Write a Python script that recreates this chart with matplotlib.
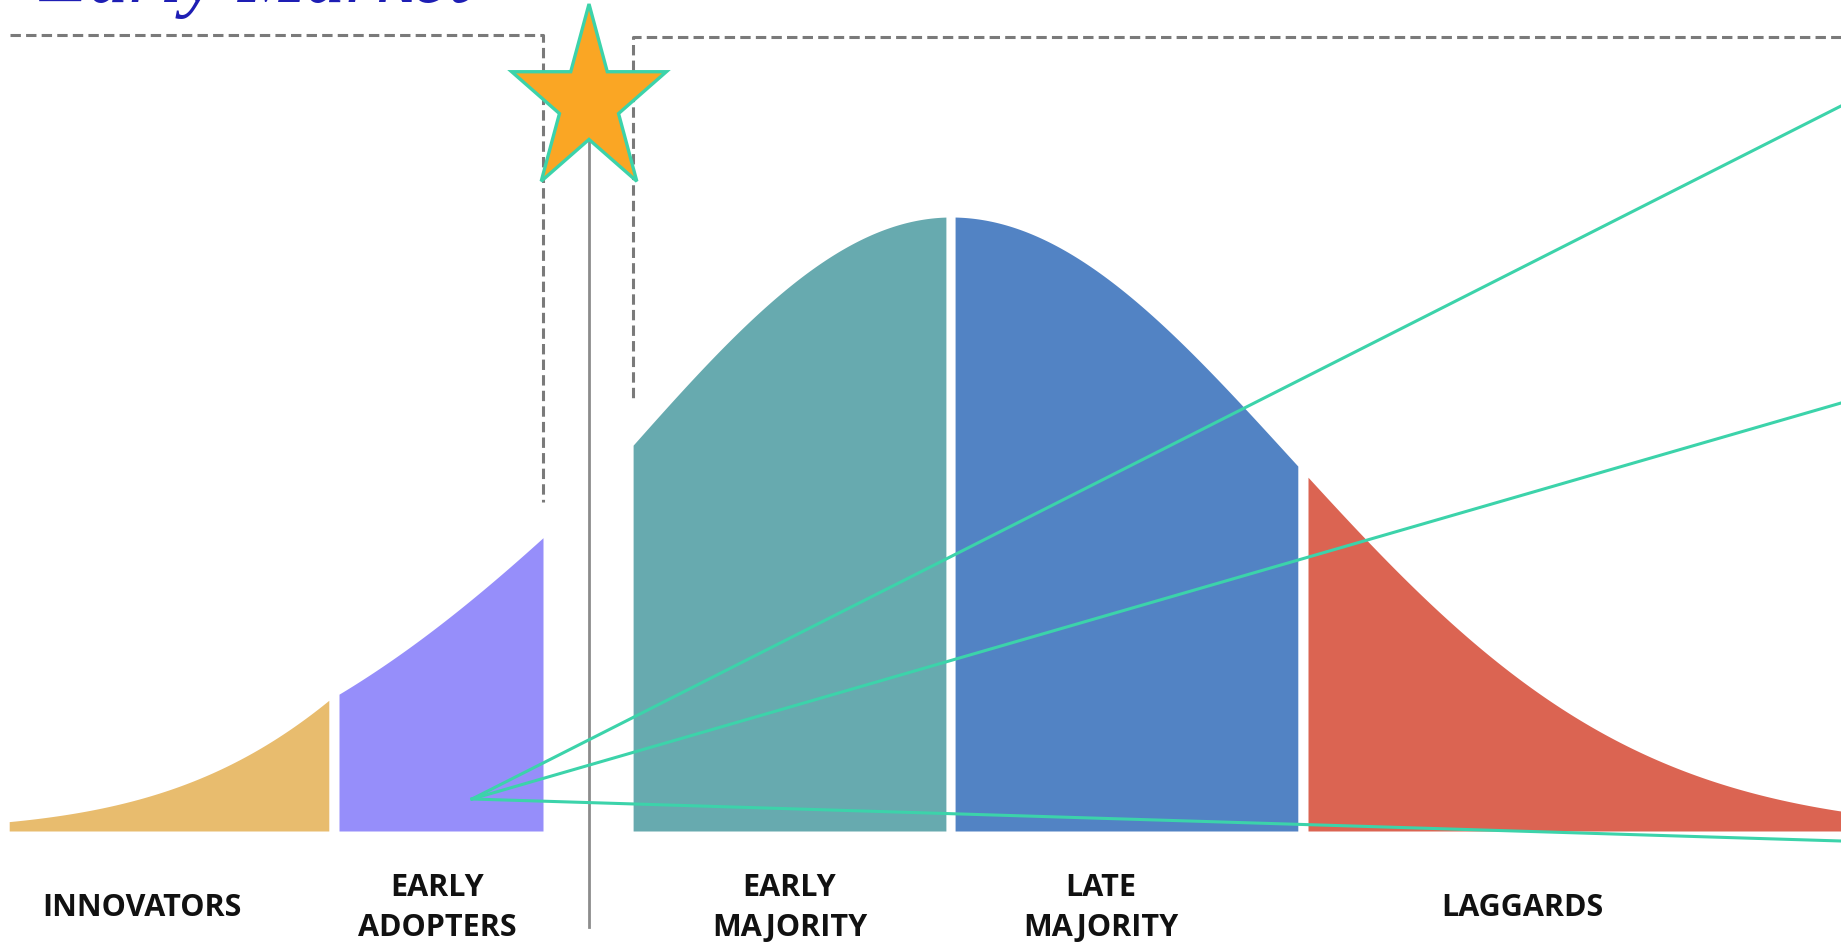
import numpy as np
import matplotlib
matplotlib.use("Agg")
import matplotlib.pyplot as plt
from matplotlib.patches import Polygon

# adoption segments, ranges in standard deviations from the mean
segments = ["INNOVATORS", "EARLY\nADOPTERS", "EARLY\nMAJORITY", "LATE\nMAJORITY", "LAGGARDS"]
z_lo = [-2.77, -1.80, -0.935, 0.012, 1.05]
z_hi = [-1.83, -1.20, -0.015, 1.02, 2.75]
# shape of the drawn curve per segment (left tail is a bit flatter)
seg_shift = [-0.37, 0.21, 0.0, 0.0, 0.0]
seg_spread = [0.83, 1.16, 0.97, 1.0, 1.0]
colors = ["#E8BC6E", "#968EFA", "#67AAAF", "#5283C4", "#DB6452"]
label_z = [-2.38, -1.51, -0.475, 0.44, 1.68]

W, H = 1841, 949
mean_px, sd_px = 951, 340
base_px, peak_px = 831, 614

fig = plt.figure(figsize=(W / 100, H / 100), dpi=100)

# curve axes: x in sd units, y relative to peak height
ax = fig.add_axes([0, 0, 1, 1])
ax.set_xlim(-mean_px / sd_px, (W - mean_px) / sd_px)
ax.set_ylim((base_px - H) / peak_px, base_px / peak_px)
ax.axis("off")

for lo, hi, sh, sp, c in zip(z_lo, z_hi, seg_shift, seg_spread, colors):
    z = np.linspace(lo, hi, 200)
    h = np.exp(-((z - sh) / sp) ** 2 / 2)
    ax.fill_between(z, 0, h, color=c, lw=0, zorder=2)

for name, lz in zip(segments, label_z):
    ax.text(lz, (base_px - 908) / peak_px, name, ha="center", va="center",
            fontsize=22, fontweight="bold", family="Open Sans", color="#111111",
            linespacing=1.45)

# overlay in pixel coordinates for the decorations
ov = fig.add_axes([0, 0, 1, 1])
ov.set_xlim(0, W)
ov.set_ylim(H, 0)
ov.axis("off")
ov.patch.set_alpha(0)

dash = dict(color="#7a7a7a", lw=2.2, ls=(0, (3.4, 1.7)))
ov.plot([10, 543, 543], [35, 35, 502], **dash)
ov.plot([W, 633, 633], [37, 37, 400], **dash)

ov.plot([589, 589], [140, 927], color="#8c8c8c", lw=2.0, zorder=3)

# star
cx, cy, R = 589, 102, 98
ang = np.deg2rad(90 + 36 * np.arange(10))
rad = np.where(np.arange(10) % 2 == 0, R, R * 0.382)
star = np.column_stack([cx + 0.83 * rad * np.cos(ang), cy - rad * np.sin(ang)])
ov.add_patch(Polygon(star, closed=True, facecolor="#FAA624", edgecolor="#3CD3AA",
                     lw=2.4, zorder=5))

# pointer lines
for ye in [106, 403, 841]:
    ov.plot([472, W], [799, ye], color="#3CD3AA", lw=2.2, zorder=4)

ov.text(40, 2, "Early Market", ha="left", va="baseline", fontsize=58,
        style="italic", family="Liberation Serif", color="#1E1EB4")

fig.savefig("out.png", dpi=100)
